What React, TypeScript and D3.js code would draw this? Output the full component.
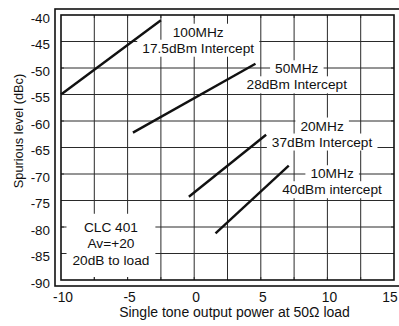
import React, { useEffect, useRef } from 'react';
import * as d3 from 'd3';

const xTicks = [-10, -5, 0, 5, 10, 15];
const yTicks = [-40, -45, -50, -55, -60, -65, -70, -75, -80, -85, -90];
const xGrid = [-7.5, -5, -2.5, 0, 2.5, 5, 7.5, 10, 12.5];
const yGrid = [-45, -50, -55, -60, -65, -70, -75, -80, -85];

// each series is a straight segment: [start, end]
const seriesNames = ['100MHz', '50MHz', '20MHz', '10MHz'];
const seriesX = [[-10, -2.5], [-4.6, 4.6], [-0.4, 5.4], [1.6, 7.1]];
const seriesY = [[-55, -41], [-62.2, -49.2], [-74.3, -62.6], [-81.2, -68.4]];

// annotations (anchor in data units = centre / first baseline)
const labelText = [
  ['100MHz', '17.5dBm Intercept'],
  ['50MHz', '28dBm Intercept'],
  ['20MHz', '37dBm Intercept'],
  ['10MHz', '40dBm intercept'],
];
const labelX = [0.3, 7.7, 9.6, 10.35];
const labelY = [-44.1, -51.0, -61.8, -70.8];

const noteText = ['CLC 401', 'Av=+20', '20dB to load'];
const noteX = -6.25;
const noteY = -80.9;

const xTitle = 'Single tone output power at 50\u03A9 load';
const yTitle = 'Spurious level (dBc)';

const FONT = '"Liberation Sans", Arial, Helvetica, sans-serif';

export default function App() {
  const ref = useRef<SVGSVGElement | null>(null);

  useEffect(() => {
    if (!ref.current) return;
    const width = 399;
    const height = 326;
    const margin = { top: 15, right: 5, bottom: 46, left: 61 };
    const innerWidth = width - margin.left - margin.right;
    const innerHeight = height - margin.top - margin.bottom;

    const svg = d3.select(ref.current);
    svg.selectAll('*').remove();
    svg.attr('viewBox', `0 0 ${width} ${height}`);

    svg.append('rect').attr('width', width).attr('height', height).attr('fill', '#fff');

    const g = svg.append('g').attr('transform', `translate(${margin.left},${margin.top})`);

    const x = d3.scaleLinear().domain([-10, 15]).range([0, innerWidth]);
    const y = d3.scaleLinear().domain([-90, -40]).range([innerHeight, 0]);

    // grid
    g.selectAll('.vgrid')
      .data(xGrid)
      .enter()
      .append('line')
      .attr('x1', d => x(d))
      .attr('x2', d => x(d))
      .attr('y1', 0)
      .attr('y2', innerHeight)
      .attr('stroke', '#2a2a2a')
      .attr('stroke-width', 1);
    g.selectAll('.hgrid')
      .data(yGrid)
      .enter()
      .append('line')
      .attr('x1', 0)
      .attr('x2', innerWidth)
      .attr('y1', d => y(d))
      .attr('y2', d => y(d))
      .attr('stroke', '#2a2a2a')
      .attr('stroke-width', 1);

    const fontSize = 13.7;
    const lineGap = 16;

    // label boxes: one white box per text line
    labelText.forEach((lines, i) => {
      const lg = g.append('g');
      lines.forEach((t, j) => {
        const txt = lg
          .append('text')
          .attr('x', x(labelX[i]))
          .attr('y', y(labelY[i]) + j * lineGap)
          .attr('text-anchor', 'middle')
          .style('font-family', FONT)
          .style('font-size', `${fontSize}px`)
          .attr('fill', '#111')
          .text(t);
        const bb = (txt.node() as SVGTextElement).getBBox();
        lg.insert('rect', 'text')
          .attr('x', bb.x - 5)
          .attr('y', bb.y - 1)
          .attr('width', bb.width + 10)
          .attr('height', bb.height + 2)
          .attr('fill', '#fff');
      });
    });

    // note box: one box around all lines
    const ng = g.append('g');
    noteText.forEach((t, j) => {
      ng.append('text')
        .attr('x', x(noteX))
        .attr('y', y(noteY) + j * 16.7)
        .attr('text-anchor', 'middle')
        .style('font-family', FONT)
        .style('font-size', `${fontSize}px`)
        .attr('fill', '#111')
        .text(t);
    });
    const nb = (ng.node() as SVGGElement).getBBox();
    ng.insert('rect', 'text')
      .attr('x', nb.x - 6)
      .attr('y', nb.y - 6)
      .attr('width', nb.width + 12)
      .attr('height', nb.height + 15)
      .attr('fill', '#fff');

    // series segments
    const line = d3
      .line<[number, number]>()
      .x(d => x(d[0]))
      .y(d => y(d[1]));
    seriesNames.forEach((name, i) => {
      const pts: [number, number][] = seriesX[i].map((v, k) => [v, seriesY[i][k]]);
      g.append('path')
        .datum(pts)
        .attr('class', `series-${name}`)
        .attr('d', line)
        .attr('fill', 'none')
        .attr('stroke', '#111')
        .attr('stroke-width', 2.4);
    });

    // small inner ticks (show where boxes hide the grid)
    const tl = 3;
    xGrid.forEach(v => {
      g.append('line').attr('x1', x(v)).attr('x2', x(v)).attr('y1', 0).attr('y2', tl).attr('stroke', '#2a2a2a');
      g.append('line').attr('x1', x(v)).attr('x2', x(v)).attr('y1', innerHeight - tl).attr('y2', innerHeight).attr('stroke', '#2a2a2a');
    });
    yGrid.forEach(v => {
      g.append('line').attr('x1', 0).attr('x2', tl).attr('y1', y(v)).attr('y2', y(v)).attr('stroke', '#2a2a2a');
      g.append('line').attr('x1', innerWidth - tl).attr('x2', innerWidth).attr('y1', y(v)).attr('y2', y(v)).attr('stroke', '#2a2a2a');
    });

    // inner plot frame
    g.append('rect')
      .attr('x', 0)
      .attr('y', 0)
      .attr('width', innerWidth)
      .attr('height', innerHeight)
      .attr('fill', 'none')
      .attr('stroke', '#111')
      .attr('stroke-width', 1.6);

    // outer frame (runs off the right edge)
    svg.append('rect')
      .attr('x', margin.left - 6)
      .attr('y', margin.top - 6)
      .attr('width', width + 20)
      .attr('height', innerHeight + 12)
      .attr('fill', 'none')
      .attr('stroke', '#111')
      .attr('stroke-width', 1.6);

    // tick labels (the last one is kept inside the picture)
    g.selectAll('.xlab')
      .data(xTicks)
      .enter()
      .append('text')
      .attr('x', d => Math.min(x(d) + 2, width - margin.left - 9))
      .attr('y', innerHeight + 21.7)
      .attr('text-anchor', 'middle')
      .style('font-family', FONT)
      .style('font-size', '13.8px')
      .attr('fill', '#111')
      .text(d => String(d));

    g.selectAll('.ylab')
      .data(yTicks)
      .enter()
      .append('text')
      .attr('x', -11)
      .attr('y', d => y(d) + 7.5)
      .attr('text-anchor', 'end')
      .style('font-family', FONT)
      .style('font-size', '13.4px')
      .attr('fill', '#111')
      .text(d => String(d));

    // axis titles
    svg.append('text')
      .attr('x', margin.left + innerWidth / 2 + 7)
      .attr('y', 316.5)
      .attr('text-anchor', 'middle')
      .style('font-family', FONT)
      .style('font-size', '14px')
      .attr('fill', '#111')
      .text(xTitle);

    svg.append('text')
      .attr('transform', `translate(22.5,131) rotate(-90)`)
      .attr('text-anchor', 'middle')
      .style('font-family', FONT)
      .style('font-size', '12.8px')
      .attr('fill', '#111')
      .text(yTitle);
  }, []);

  return (
    <svg
      ref={ref}
      width={399}
      height={326}
      style={{ position: 'absolute', left: 0, top: 0, display: 'block' }}
    ></svg>
  );
}
